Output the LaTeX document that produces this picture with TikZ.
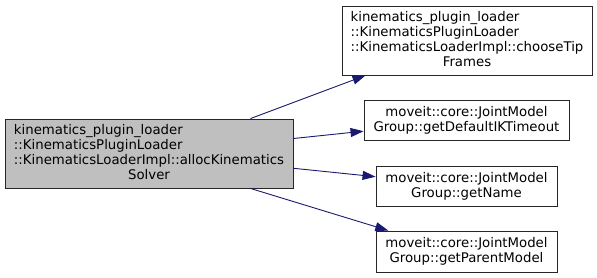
\documentclass[tikz,border=0pt]{standalone}
\usepackage{fontspec}
\setmainfont{DejaVu Sans}
\usetikzlibrary{arrows.meta}
\definecolor{edgeblue}{HTML}{191970}
\definecolor{callergray}{HTML}{BFBFBF}
\newcommand{\graphfont}{\fontsize{13.3}{15}\selectfont}

\begin{document}
\begin{tikzpicture}[x=1pt, y=-1pt, font=\graphfont,
  fnbox/.style={draw=black!85, line width=0.9pt, fill=white, inner sep=0pt, align=center},
  call/.style={draw=edgeblue, line width=0.9pt, -{Triangle[length=13pt, width=9pt]}}]
  \useasboundingbox (0,0) rectangle (597,277);
  % Caller
  \node[fnbox, fill=callergray, minimum width=288pt, minimum height=69pt] (alloc) at (149,153.5)
    {\begin{tabular}{@{}l@{}}kinematics\_plugin\_loader\\::KinematicsPluginLoader\\::KinematicsLoaderImpl::allocKinematics\\\multicolumn{1}{@{}c@{}}{Solver}\end{tabular}};
  % Callees
  \node[fnbox, minimum width=250pt, minimum height=69pt] (tip) at (467,40.5)
    {\begin{tabular}{@{}l@{}}kinematics\_plugin\_loader\\::KinematicsPluginLoader\\::KinematicsLoaderImpl::chooseTip\\\multicolumn{1}{@{}c@{}}{Frames}\end{tabular}};
  \node[fnbox, minimum width=205pt, minimum height=40pt] (timeout) at (466.5,120.5)
    {moveit::core::JointModel\\Group::getDefaultIKTimeout};
  \node[fnbox, minimum width=181pt, minimum height=40pt] (name) at (466.5,186)
    {moveit::core::JointModel\\Group::getName};
  \node[fnbox, minimum width=181pt, minimum height=41pt] (parent) at (466.5,251.5)
    {moveit::core::JointModel\\Group::getParentModel};
  % Calls
  \draw[call] (alloc.19) -- (tip.199);
  \draw[call] (alloc) -- (timeout);
  \draw[call] (alloc) -- (name);
  \draw[call] (alloc.-19) -- (parent.165);
\end{tikzpicture}
\end{document}
